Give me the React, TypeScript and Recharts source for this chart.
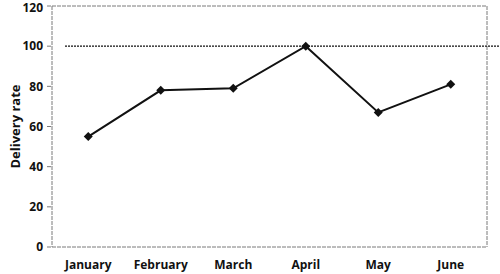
import { LineChart, Line, XAxis, YAxis, ReferenceLine, CartesianGrid } from "recharts";

const months = ["January", "February", "March", "April", "May", "June"];
const deliveryRate = [55, 78, 79, 100, 67, 81];
const yTicks = [0, 20, 40, 60, 80, 100, 120];
const targetRate = 100;

const data = months.map((month, i) => ({ month, rate: deliveryRate[i] }));

const font = "'Open Sans', 'DejaVu Sans', sans-serif";
const axisColor = "#7a7a7a";

function Diamond(props: any) {
  const { cx, cy } = props;
  if (cx == null || cy == null) return null;
  const r = 4.5;
  return (
    <polygon
      points={`${cx},${cy - r} ${cx + r},${cy} ${cx},${cy + r} ${cx - r},${cy}`}
      fill="#111"
    />
  );
}

function TargetLine(props: any) {
  const { x1, x2, y1 } = props;
  // the printed target line starts a bit inside the frame and runs to the page edge
  return (
    <line
      x1={x1 + 13}
      x2={x2 + 13}
      y1={y1}
      y2={y1}
      stroke="#111"
      strokeWidth={1.4}
      strokeDasharray="2 1"
    />
  );
}

export default function App() {
  return (
    <div style={{ position: "absolute", left: 0, top: 0, background: "#fff" }}>
      <LineChart
        width={500}
        height={274}
        data={data}
        margin={{ top: 6, right: 13, bottom: 0, left: 0 }}
      >
        {/* top and right edges of the plot frame */}
        <CartesianGrid
          stroke={axisColor}
          strokeDasharray="4 1"
          horizontalCoordinatesGenerator={({ offset }: any) => [offset.top]}
          verticalCoordinatesGenerator={({ offset }: any) => [offset.left + offset.width]}
        />
        <XAxis
          dataKey="month"
          scale="band"
          stroke={axisColor}
          strokeDasharray="4 1"
          tickLine={false}
          tickMargin={7}
          height={27}
          tick={{ fill: "#111", fontSize: 12, fontWeight: 700, fontFamily: font }}
        />
        <YAxis
          domain={[0, 120]}
          ticks={yTicks}
          stroke={axisColor}
          strokeDasharray="4 1"
          tickSize={5}
          tickMargin={4}
          width={52}
          tick={{ fill: "#111", fontSize: 12, fontWeight: 700, fontFamily: font }}
          label={{
            value: "Delivery rate",
            angle: -90,
            position: "insideLeft",
            offset: 15,
            style: {
              textAnchor: "middle",
              fill: "#111",
              fontSize: 13,
              fontWeight: 700,
              fontFamily: font,
            },
          }}
        />
        <ReferenceLine y={targetRate} ifOverflow="visible" shape={TargetLine} />
        <Line
          dataKey="rate"
          stroke="#111"
          strokeWidth={2}
          dot={<Diamond />}
          activeDot={false}
          isAnimationActive={false}
        />
      </LineChart>
    </div>
  );
}
